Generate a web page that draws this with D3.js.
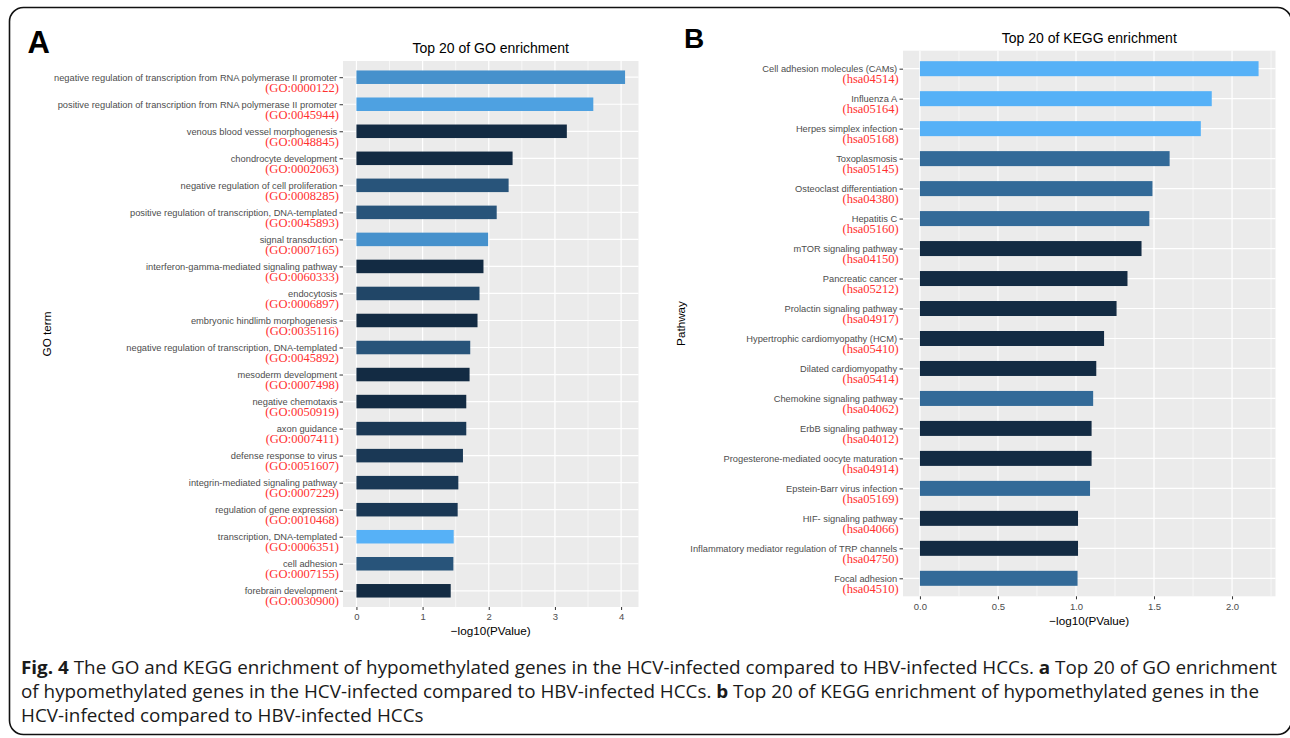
<!DOCTYPE html>
<html><head><meta charset="utf-8">
<script src="https://cdn.jsdelivr.net/npm/d3@7"></script>
<style>
html,body{margin:0;padding:0;background:#fff;}
svg{display:block;}
</style></head><body>
<svg id="chart" width="1290" height="738"></svg>
<script>
// ---------- DATA ----------
const goTerms = [
  "negative regulation of transcription from RNA polymerase II promoter",
  "positive regulation of transcription from RNA polymerase II promoter",
  "venous blood vessel morphogenesis",
  "chondrocyte development",
  "negative regulation of cell proliferation",
  "positive regulation of transcription, DNA-templated",
  "signal transduction",
  "interferon-gamma-mediated signaling pathway",
  "endocytosis",
  "embryonic hindlimb morphogenesis",
  "negative regulation of transcription, DNA-templated",
  "mesoderm development",
  "negative chemotaxis",
  "axon guidance",
  "defense response to virus",
  "integrin-mediated signaling pathway",
  "regulation of gene expression",
  "transcription, DNA-templated",
  "cell adhesion",
  "forebrain development"
];
const goIds = [
  "(GO:0000122)","(GO:0045944)","(GO:0048845)","(GO:0002063)","(GO:0008285)",
  "(GO:0045893)","(GO:0007165)","(GO:0060333)","(GO:0006897)","(GO:0035116)",
  "(GO:0045892)","(GO:0007498)","(GO:0050919)","(GO:0007411)","(GO:0051607)",
  "(GO:0007229)","(GO:0010468)","(GO:0006351)","(GO:0007155)","(GO:0030900)"
];
const goValues = [4.06, 3.58, 3.18, 2.36, 2.30, 2.12, 1.99, 1.92, 1.86, 1.83,
                  1.72, 1.71, 1.66, 1.66, 1.61, 1.54, 1.53, 1.47, 1.465, 1.425];
const goCounts = [10, 11, 3, 3, 6, 6, 10, 3, 5, 3, 6, 3, 3, 4, 4, 4, 4, 12, 6, 3];
const goTicks = [0, 1, 2, 3, 4];

const keggTerms = [
  "Cell adhesion molecules (CAMs)",
  "Influenza A",
  "Herpes simplex infection",
  "Toxoplasmosis",
  "Osteoclast differentiation",
  "Hepatitis C",
  "mTOR signaling pathway",
  "Pancreatic cancer",
  "Prolactin signaling pathway",
  "Hypertrophic cardiomyopathy (HCM)",
  "Dilated cardiomyopathy",
  "Chemokine signaling pathway",
  "ErbB signaling pathway",
  "Progesterone-mediated oocyte maturation",
  "Epstein-Barr virus infection",
  "HIF- signaling pathway",
  "Inflammatory mediator regulation of TRP channels",
  "Focal adhesion"
];
const keggIds = [
  "(hsa04514)","(hsa05164)","(hsa05168)","(hsa05145)","(hsa04380)","(hsa05160)",
  "(hsa04150)","(hsa05212)","(hsa04917)","(hsa05410)","(hsa05414)","(hsa04062)",
  "(hsa04012)","(hsa04914)","(hsa05169)","(hsa04066)","(hsa04750)","(hsa04510)"
];
const keggValues = [2.17, 1.87, 1.80, 1.60, 1.49, 1.47, 1.42, 1.33, 1.26, 1.18,
                    1.13, 1.11, 1.10, 1.10, 1.09, 1.013, 1.013, 1.01];
const keggCounts = [4, 4, 4, 3, 3, 3, 2, 2, 2, 2, 2, 3, 2, 2, 3, 2, 2, 3];
const keggTicks = [0, 0.5, 1, 1.5, 2];

const captionLines = [
  [["Fig. 4", true], [" The GO and KEGG enrichment of hypomethylated genes in the HCV-infected compared to HBV-infected HCCs. ", false], ["a", true], [" Top 20 of GO enrichment", false]],
  [["of hypomethylated genes in the HCV-infected compared to HBV-infected HCCs. ", false], ["b", true], [" Top 20 of KEGG enrichment of hypomethylated genes in the", false]],
  [["HCV-infected compared to HBV-infected HCCs", false]]
];

// ---------- DRAW ----------
const svg = d3.select("#chart");
const SANS = "'Liberation Sans', Arial, Helvetica, sans-serif";
const SERIF = "'Liberation Serif', 'Times New Roman', serif";

svg.append("rect")
  .attr("x", 9.5).attr("y", 7.5).attr("width", 1282).attr("height", 727)
  .attr("rx", 14).attr("fill", "none").attr("stroke", "#111").attr("stroke-width", 1.6);

function drawPanel(cfg) {
  const g = svg.append("g");
  const n = cfg.terms.length;
  const maxV = d3.max(cfg.values);
  const x = d3.scaleLinear()
    .domain([-0.05 * maxV, maxV * 1.05])
    .range([cfg.left, cfg.right]);
  const y = d3.scalePoint()
    .domain(d3.range(n))
    .range([cfg.top, cfg.bottom])
    .padding(0.6);
  const step = y.step();
  const color = d3.scaleLinear()
    .domain(d3.extent(cfg.counts))
    .range(["#132B43", "#56B1F7"])
    .interpolate(d3.interpolateLab);

  g.append("rect")
    .attr("x", cfg.left).attr("y", cfg.top)
    .attr("width", cfg.right - cfg.left).attr("height", cfg.bottom - cfg.top)
    .attr("fill", "#EBEBEB");

  const [d0, d1] = x.domain();
  const minor = [];
  for (let i = 0; i < cfg.ticks.length; i++) {
    const m = cfg.ticks[i] + cfg.tickStep / 2;
    if (m > d0 && m < d1) minor.push(m);
  }
  g.selectAll(".minor").data(minor).enter().append("line")
    .attr("x1", d => x(d)).attr("x2", d => x(d))
    .attr("y1", cfg.top).attr("y2", cfg.bottom)
    .attr("stroke", "#fff").attr("stroke-width", 0.6);
  g.selectAll(".majx").data(cfg.ticks).enter().append("line")
    .attr("x1", d => x(d)).attr("x2", d => x(d))
    .attr("y1", cfg.top).attr("y2", cfg.bottom)
    .attr("stroke", "#fff").attr("stroke-width", 1.2);
  g.selectAll(".majy").data(d3.range(n)).enter().append("line")
    .attr("x1", cfg.left).attr("x2", cfg.right)
    .attr("y1", d => y(d)).attr("y2", d => y(d))
    .attr("stroke", "#fff").attr("stroke-width", 1.2);

  g.selectAll(".bar").data(cfg.values).enter().append("rect")
    .attr("x", x(0))
    .attr("y", (d, i) => y(i) - step * 0.25)
    .attr("width", d => x(d) - x(0))
    .attr("height", step * 0.5)
    .attr("fill", (d, i) => color(cfg.counts[i]));

  const xa = g.append("g")
    .attr("transform", `translate(0,${cfg.bottom})`)
    .call(d3.axisBottom(x).tickValues(cfg.ticks).tickFormat(cfg.fmt)
      .tickSize(3).tickPadding(3.5));
  xa.select(".domain").remove();
  xa.selectAll("line").attr("stroke", "#333").attr("stroke-width", 1);
  xa.selectAll("text").attr("fill", "#4D4D4D")
    .style("font-family", SANS).style("font-size", "9.5px");

  const ya = g.append("g")
    .attr("transform", `translate(${cfg.left},0)`)
    .call(d3.axisLeft(y).tickFormat("").tickSize(3.5));
  ya.select(".domain").remove();
  ya.selectAll("line").attr("stroke", "#333").attr("stroke-width", 1);

  const lab = g.selectAll(".lab").data(cfg.terms).enter().append("g");
  lab.append("text")
    .attr("x", cfg.left - 5.8).attr("y", (d, i) => y(i) + 3.5)
    .attr("text-anchor", "end").attr("fill", "#4D4D4D")
    .style("font-family", SANS).style("font-size", "9.3px")
    .text(d => d);
  lab.append("text")
    .attr("x", cfg.left - 4.2).attr("y", (d, i) => y(i) + 14.5)
    .attr("text-anchor", "end").attr("fill", "#FF3030")
    .style("font-family", SERIF).style("font-size", "12.5px")
    .text((d, i) => cfg.ids[i]);

  g.append("text")
    .attr("x", (cfg.left + cfg.right) / 2).attr("y", cfg.titleY)
    .attr("text-anchor", "middle").attr("fill", "#000")
    .style("font-family", SANS).style("font-size", "14px")
    .text(cfg.title);
  g.append("text")
    .attr("x", (cfg.left + cfg.right) / 2).attr("y", cfg.xTitleY)
    .attr("text-anchor", "middle").attr("fill", "#000")
    .style("font-family", SANS).style("font-size", "11.7px")
    .text("\u2212log10(PValue)");
  g.append("text")
    .attr("transform", `translate(${cfg.yTitleX},${(cfg.top + cfg.bottom) / 2}) rotate(-90)`)
    .attr("text-anchor", "middle").attr("fill", "#000")
    .style("font-family", SANS).style("font-size", "11.7px")
    .text(cfg.yTitle);
  g.append("text")
    .attr("x", cfg.letterX).attr("y", cfg.letterY)
    .attr("fill", "#000").style("font-family", SANS)
    .style("font-size", cfg.letterSize).style("font-weight", "bold")
    .text(cfg.letter);
}

drawPanel({
  terms: goTerms, ids: goIds, values: goValues, counts: goCounts,
  ticks: goTicks, tickStep: 1, fmt: d3.format("d"),
  left: 343, right: 638.5, top: 61, bottom: 607,
  title: "Top 20 of GO enrichment", titleY: 53, xTitleY: 634.5,
  yTitle: "GO term", yTitleX: 51,
  letter: "A", letterX: 27.5, letterY: 53.3, letterSize: "31px"
});
drawPanel({
  terms: keggTerms, ids: keggIds, values: keggValues, counts: keggCounts,
  ticks: keggTicks, tickStep: 0.5, fmt: d3.format(".1f"),
  left: 903, right: 1275.5, top: 50.7, bottom: 596.3,
  title: "Top 20 of KEGG enrichment", titleY: 43, xTitleY: 624.5,
  yTitle: "Pathway", yTitleX: 685,
  letter: "B", letterX: 684, letterY: 48.3, letterSize: "28px"
});

// caption: one horizontal scale for all lines, fitted so line 1 spans the frame width
const capG = svg.append("g");
const capTexts = captionLines.map((line, li) => {
  const t = capG.append("text")
    .attr("x", 21).attr("y", 674 + li * 24)
    .attr("fill", "#1a1a1a")
    .style("font-family", "'Open Sans', 'Noto Sans', sans-serif")
    .style("font-size", "18px");
  line.forEach(([s, b]) => {
    t.append("tspan").style("font-weight", b ? "bold" : "normal").text(s);
  });
  return t;
});
const natural = capTexts.map(t => t.node().getComputedTextLength());
const sx = 1256 / natural[0];
capTexts.forEach((t, i) => {
  t.attr("textLength", natural[i] * sx).attr("lengthAdjust", "spacingAndGlyphs");
});
</script>
</body></html>
